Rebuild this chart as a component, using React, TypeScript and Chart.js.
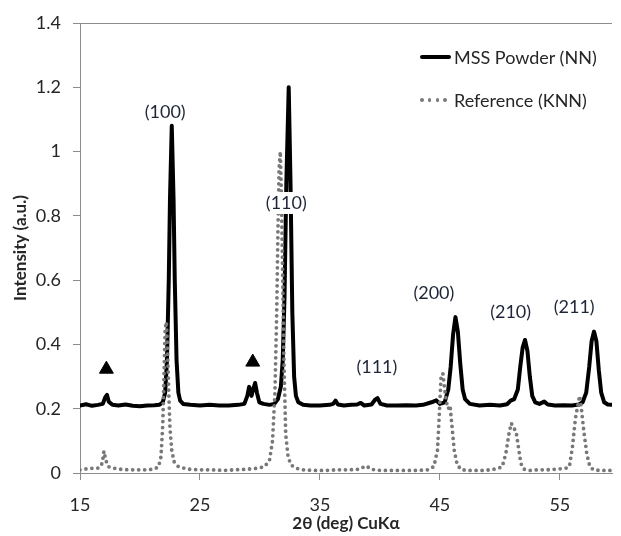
import React, { useEffect, useRef } from 'react';
import { Chart, registerables } from 'chart.js';

Chart.register(...registerables);

// MSS Powder (NN)
const nnAngle = [
  15.0, 15.5, 16.0, 16.5, 16.9, 17.1, 17.25, 17.4, 17.7, 18.2, 18.8, 19.4, 20.0, 20.6, 21.2, 21.6, 21.9,
  22.1, 22.25, 22.4, 22.5, 22.65, 22.8, 22.9, 23.05, 23.2, 23.35, 23.6, 24.2, 25.0, 25.8, 26.6, 27.4,
  28.2, 28.7, 28.95, 29.1, 29.3, 29.45, 29.6, 29.75, 29.95, 30.3, 30.8, 31.2, 31.5, 31.75, 31.9, 32.05,
  32.2, 32.4, 32.55, 32.7, 32.85, 33.0, 33.2, 33.6, 34.2, 35.0, 35.8, 36.1, 36.3, 36.5, 37.0, 37.6,
  38.1, 38.4, 38.7, 39.3, 39.6, 39.8, 40.05, 40.6, 41.4, 42.2, 43.0, 43.6, 44.3, 44.7, 45.0, 45.4,
  45.7, 45.9, 46.1, 46.3, 46.5, 46.7, 46.9, 47.1, 47.5, 48.3, 49.2, 50.0, 50.6, 50.9, 51.2, 51.5, 51.7,
  51.9, 52.1, 52.3, 52.5, 52.7, 52.95, 53.3, 53.7, 54.0, 54.6, 55.3, 56.0, 56.6, 56.9, 57.2, 57.45,
  57.65, 57.85, 58.05, 58.25, 58.45, 58.7, 59.0, 59.5, 60.0,
];
const nnIntensity = [
  0.21, 0.214, 0.209, 0.212, 0.215, 0.235, 0.243, 0.222, 0.212, 0.21, 0.213, 0.209, 0.208, 0.21, 0.211, 0.212, 0.22,
  0.25, 0.35, 0.6, 0.85, 1.08, 0.85, 0.6, 0.35, 0.25, 0.225, 0.215, 0.212, 0.21, 0.212, 0.21, 0.21,
  0.212, 0.215, 0.24, 0.268, 0.24, 0.262, 0.28, 0.25, 0.22, 0.215, 0.212, 0.215, 0.23, 0.27, 0.35, 0.55,
  0.9, 1.2, 0.9, 0.5, 0.3, 0.24, 0.22, 0.212, 0.21, 0.21, 0.212, 0.215, 0.225, 0.213, 0.21, 0.212,
  0.213, 0.218, 0.21, 0.213, 0.228, 0.233, 0.215, 0.21, 0.21, 0.211, 0.21, 0.212, 0.22, 0.226, 0.215, 0.22,
  0.26, 0.33, 0.43, 0.485, 0.44, 0.34, 0.26, 0.23, 0.215, 0.21, 0.212, 0.21, 0.214, 0.225, 0.23, 0.26, 0.33,
  0.39, 0.414, 0.38, 0.3, 0.24, 0.22, 0.215, 0.222, 0.213, 0.21, 0.211, 0.21, 0.213, 0.22, 0.25, 0.33,
  0.41, 0.44, 0.41, 0.32, 0.25, 0.22, 0.213, 0.212, 0.21,
];

// Reference (KNN)
const knnAngle = [
  15.0, 15.4, 15.8, 16.2, 16.6, 16.85, 17.0, 17.15, 17.35, 17.8, 18.3, 19.0, 19.8, 20.6, 21.2, 21.55, 21.75,
  21.9, 22.0, 22.1, 22.2, 22.3, 22.4, 22.5, 22.65, 22.85, 23.2, 24.0, 25.0, 26.0, 27.0, 28.0, 29.0,
  29.8, 30.4, 30.8, 31.05, 31.25, 31.4, 31.5, 31.6, 31.7, 31.8, 31.9, 32.0, 32.15, 32.35, 32.6, 33.0,
  33.6, 34.5, 35.5, 36.5, 37.5, 38.3, 38.7, 38.9, 39.2, 40.0, 41.0, 42.0, 43.0, 44.0, 44.5, 44.8,
  44.95, 45.1, 45.25, 45.4, 45.55, 45.7, 45.85, 46.0, 46.2, 46.45, 46.8, 47.5, 48.5, 49.3, 49.9, 50.2,
  50.5, 50.75, 50.95, 51.15, 51.35, 51.55, 51.75, 52.0, 52.5, 53.2, 54.0, 54.8, 55.5, 55.8, 56.05,
  56.3, 56.5, 56.65, 56.8, 57.0, 57.25, 57.5, 57.8, 58.3, 59.0, 60.0,
];
const knnIntensity = [
  0.01, 0.012, 0.015, 0.014, 0.016, 0.03, 0.068, 0.04, 0.02, 0.015, 0.012, 0.01, 0.01, 0.01, 0.012, 0.02, 0.05,
  0.15, 0.3, 0.45, 0.47, 0.38, 0.25, 0.14, 0.07, 0.035, 0.02, 0.012, 0.01, 0.01, 0.008, 0.01, 0.012,
  0.015, 0.02, 0.04, 0.1, 0.25, 0.5, 0.75, 0.95, 1.0, 0.85, 0.6, 0.35, 0.12, 0.05, 0.025, 0.015,
  0.01, 0.008, 0.008, 0.01, 0.01, 0.012, 0.02, 0.022, 0.012, 0.008, 0.008, 0.008, 0.008, 0.01, 0.02, 0.07,
  0.18, 0.3, 0.31, 0.26, 0.22, 0.2, 0.21, 0.15, 0.07, 0.025, 0.01, 0.008, 0.008, 0.01, 0.015, 0.02,
  0.06, 0.12, 0.155, 0.14, 0.13, 0.08, 0.03, 0.012, 0.008, 0.01, 0.01, 0.012, 0.015, 0.02, 0.08,
  0.17, 0.21, 0.24, 0.2, 0.13, 0.06, 0.02, 0.01, 0.008, 0.008, 0.008,
];

// phase-impurity markers (▲)
const markerAngle = [17.2, 29.4];
const markerIntensity = [0.323, 0.345];

// peak indexing labels
const peakLabels = ['(100)', '(110)', '(111)', '(200)', '(210)', '(211)'];
const peakLabelAngle = [22.1, 32.2, 39.75, 44.5, 50.9, 56.2];
const peakLabelIntensity = [1.123, 0.84, 0.33, 0.56, 0.5, 0.517];

const xTicks = [15, 25, 35, 45, 55];
const yTicks = [0, 0.2, 0.4, 0.6, 0.8, 1, 1.2, 1.4];
const seriesNames = ['MSS Powder (NN)', 'Reference (KNN)'];

const FONT = 'Lato, "Open Sans", sans-serif';
const TEXT = '#262626';

const decorPlugin = {
  id: 'decor',
  afterDatasetsDraw(chart: any) {
    const { ctx, chartArea, scales } = chart;
    ctx.save();
    ctx.strokeStyle = '#8c8c8c';
    ctx.lineWidth = 1;
    ctx.beginPath();
    ctx.moveTo(chartArea.left, Math.round(chartArea.top) + 0.5);
    ctx.lineTo(chartArea.right, Math.round(chartArea.top) + 0.5);
    ctx.stroke();
    ctx.font = `18px ${FONT}`;
    ctx.textAlign = 'center';
    ctx.textBaseline = 'middle';
    peakLabels.forEach((t, i) => {
      const x = scales.x.getPixelForValue(peakLabelAngle[i]);
      const y = scales.y.getPixelForValue(peakLabelIntensity[i]);
      const w = ctx.measureText(t).width;
      ctx.fillStyle = '#ffffff';
      ctx.fillRect(x - w / 2 - 3, y - 11, w + 6, 22);
      ctx.fillStyle = '#1f2638';
      ctx.fillText(t, x, y);
    });
    ctx.restore();
  },
};

export default function App() {
  const canvasRef = useRef<HTMLCanvasElement | null>(null);

  useEffect(() => {
    document.body.style.margin = '0';
    const canvas = canvasRef.current;
    if (!canvas) return;
    const chart = new Chart(canvas, {
      type: 'line',
      data: {
        datasets: [
          {
            label: seriesNames[1],
            data: knnAngle.map((x, i) => ({ x, y: knnIntensity[i] })),
            borderColor: '#787878',
            borderWidth: 3.8,
            borderDash: [0, 6],
            borderCapStyle: 'round',
            pointRadius: 0,
            tension: 0,
            order: 0,
          },
          {
            label: seriesNames[0],
            data: nnAngle.map((x, i) => ({ x, y: nnIntensity[i] })),
            borderColor: '#000000',
            borderWidth: 4,
            borderJoinStyle: 'round',
            borderCapStyle: 'round',
            pointRadius: 0,
            tension: 0,
            order: 1,
          },
          {
            type: 'scatter',
            label: 'marker',
            data: markerAngle.map((x, i) => ({ x, y: markerIntensity[i] })),
            pointStyle: 'triangle',
            pointRadius: 8,
            backgroundColor: '#000000',
            borderColor: '#000000',
            borderWidth: 1,
            showLine: false,
            order: 2,
          } as any,
        ],
      },
      options: {
        responsive: false,
        animation: false,
        layout: { padding: { top: 23, right: 0, left: 0, bottom: 0 } },
        plugins: {
          legend: { display: false },
          tooltip: { enabled: false },
        },
        scales: {
          x: {
            type: 'linear',
            min: 15,
            max: 59.35,
            afterBuildTicks: (axis: any) => {
              axis.ticks = xTicks.map((v) => ({ value: v }));
            },
            afterFit: (axis: any) => {
              axis.height = 63;
            },
            grid: { drawOnChartArea: false, drawTicks: true, tickLength: 7, color: '#8c8c8c' },
            border: { display: true, color: '#8c8c8c' },
            ticks: {
              autoSkip: false,
              maxRotation: 0,
              padding: 14,
              color: TEXT,
              font: { family: FONT, size: 18 },
              callback: (v: any) => String(v),
            },
            title: {
              display: true,
              text: '2θ (deg) CuKα',
              color: TEXT,
              font: { family: FONT, size: 17, weight: 'bold' },
              padding: { top: 0, bottom: 2 },
            },
          },
          y: {
            type: 'linear',
            min: 0,
            max: 1.4,
            afterBuildTicks: (axis: any) => {
              axis.ticks = yTicks.map((v) => ({ value: v }));
            },
            afterFit: (axis: any) => {
              axis.width = 80;
            },
            grid: { drawOnChartArea: false, drawTicks: true, tickLength: 7, color: '#8c8c8c' },
            border: { display: true, color: '#8c8c8c' },
            ticks: {
              padding: 12,
              color: TEXT,
              font: { family: FONT, size: 18 },
              callback: (v: any) => String(Number(Number(v).toFixed(1))),
            },
            title: {
              display: true,
              text: 'Intensity (a.u.)',
              color: TEXT,
              font: { family: FONT, size: 17, weight: 'bold' },
              padding: { top: 10, bottom: 0 },
            },
          },
        },
      },
      plugins: [decorPlugin],
    } as any);
    return () => chart.destroy();
  }, []);

  const legendText: React.CSSProperties = {
    fontFamily: FONT,
    fontSize: 18,
    color: TEXT,
    lineHeight: '22px',
    whiteSpace: 'nowrap',
  };

  return (
    <div style={{ position: 'relative', width: 621, height: 536, background: '#fff' }}>
      <canvas ref={canvasRef} width={621} height={536} style={{ display: 'block' }} />
      <div style={{ position: 'absolute', left: 420, top: 46, display: 'flex', alignItems: 'center' }}>
        <div style={{ width: 31, height: 4, background: '#000', borderRadius: 2, marginRight: 3 }} />
        <span style={legendText}>{seriesNames[0]}</span>
      </div>
      <div style={{ position: 'absolute', left: 420, top: 89, display: 'flex', alignItems: 'center' }}>
        <div style={{ display: 'flex', width: 31, marginRight: 3, justifyContent: 'space-between', paddingRight: 4, boxSizing: 'border-box' }}>
          {[0, 1, 2, 3].map((k) => (
            <div key={k} style={{ width: 3.5, height: 3.5, borderRadius: 2, background: '#787878' }} />
          ))}
        </div>
        <span style={legendText}>{seriesNames[1]}</span>
      </div>
    </div>
  );
}
